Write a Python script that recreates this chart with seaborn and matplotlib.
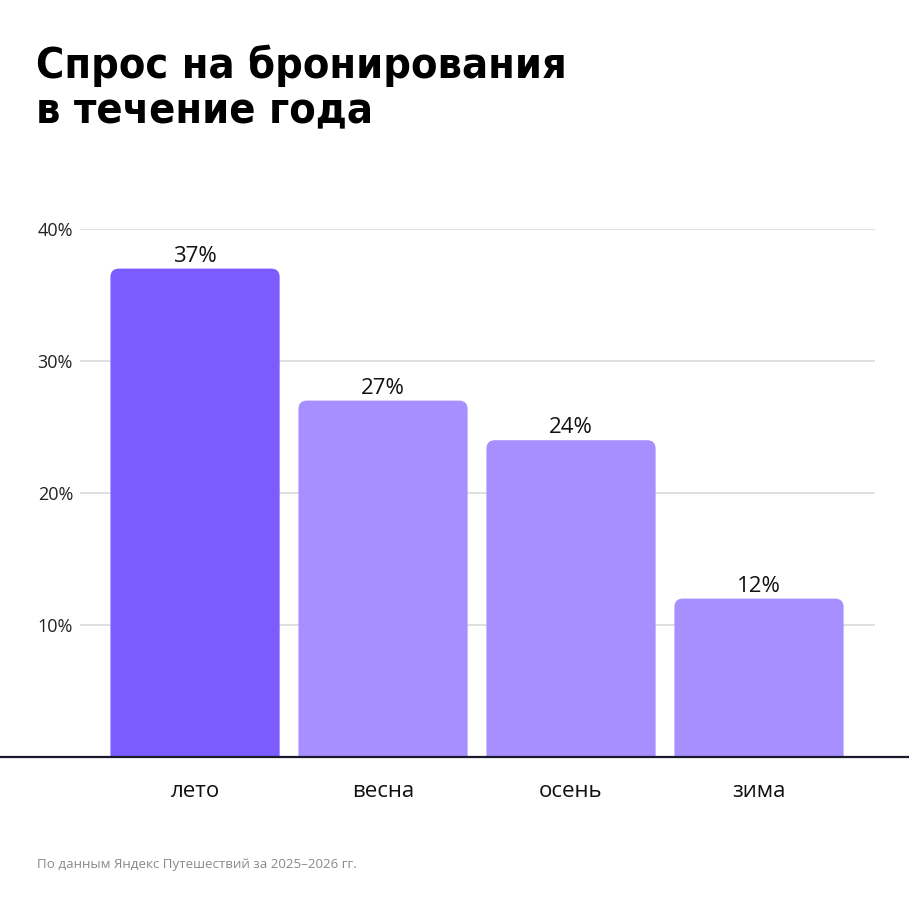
import matplotlib
matplotlib.use("Agg")
import matplotlib.pyplot as plt
import seaborn as sns
import pandas as pd
from matplotlib.patches import FancyBboxPatch
from matplotlib.lines import Line2D

# данные
seasons = ["лето", "весна", "осень", "зима"]
shares = [37, 27, 24, 12]
bar_colors = ["#7B5CFF", "#A78FFF", "#A78FFF", "#A78FFF"]
y_ticks = [10, 20, 30, 40]
y_tick_labels = ["10%", "20%", "30%", "40%"]

df = pd.DataFrame({"season": seasons, "share": shares})

sns.set_style("white")
plt.rcParams["font.family"] = ["Open Sans", "DejaVu Sans"]

fig = plt.figure(figsize=(9.09, 9.09), dpi=100)
ax = fig.add_axes([80 / 909, 1 - 757 / 909, (875 - 80) / 909, (757 - 229) / 909])

sns.barplot(data=df, x="season", y="share", hue="season", palette=bar_colors,
            saturation=1, width=0.9, legend=False, ax=ax, zorder=3)

# скруглённые углы сверху
for patch in list(ax.patches):
    x0, w, h = patch.get_x(), patch.get_width(), patch.get_height()
    fc = patch.get_facecolor()
    patch.remove()
    rounded = FancyBboxPatch((x0, -3), w, h + 3,
                             boxstyle="round,pad=0,rounding_size=0.045",
                             mutation_aspect=14.2, facecolor=fc,
                             edgecolor="none", zorder=3)
    ax.add_patch(rounded)

for i, v in enumerate(shares):
    ax.text(i, v + 0.15, f"{v}%", ha="center", va="bottom", fontsize=16, color="#111111")

ax.set_xlim(-0.612, 3.617)
ax.set_ylim(0, 40)
ax.set_yticks(y_ticks)
ax.set_yticklabels(y_tick_labels, fontsize=13, color="#222222")
ax.yaxis.grid(True, color="#d9d9d9", linewidth=1.2, zorder=0)
ax.tick_params(axis="y", length=0, pad=5)
ax.tick_params(axis="x", length=0, pad=17, labelsize=16, labelcolor="#111111")
ax.set_xlabel("")
ax.set_ylabel("")
for s in ax.spines.values():
    s.set_visible(False)

# базовая линия на всю ширину
fig.add_artist(Line2D([0, 1], [1 - 757 / 909, 1 - 757 / 909], color="#1a1a2e", linewidth=1.6, zorder=5))

title_font = dict(fontsize=31, fontweight="heavy", fontstretch="condensed",
                  family=["DejaVu Sans"], color="black", va="baseline")
fig.text(36 / 909, 1 - 78 / 909, "Спрос на бронирования", **title_font)
fig.text(36 / 909, 1 - 123 / 909, "в течение года", **title_font)
fig.text(37 / 909, 1 - 868 / 909, "По данным Яндекс Путешествий за 2025–2026 гг.",
         fontsize=9.6, color="#8a8a8a")

fig.savefig("out.png", dpi=100)
